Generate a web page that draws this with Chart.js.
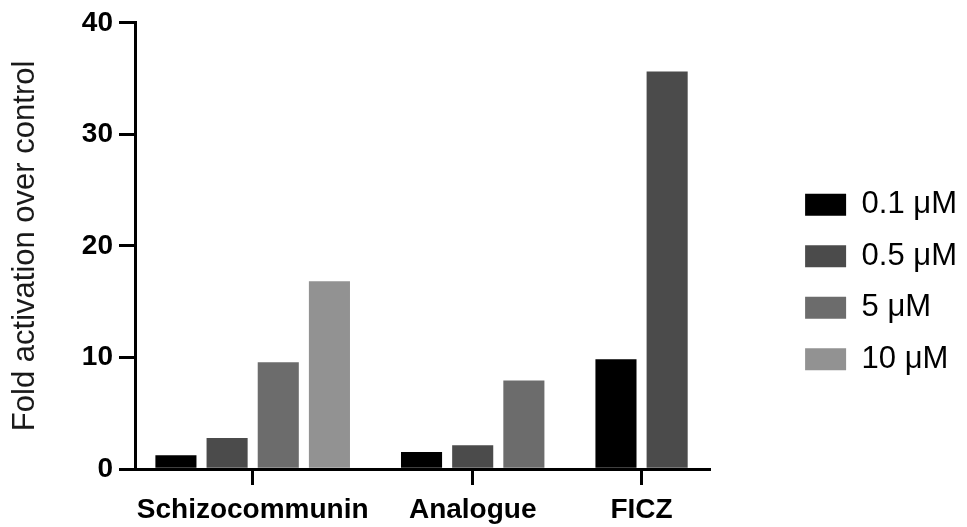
<!DOCTYPE html>
<html>
<head>
<meta charset="utf-8">
<script src="https://cdn.jsdelivr.net/npm/chart.js@4"></script>
<style>
  html, body { margin: 0; padding: 0; background: #fff; }
</style>
</head>
<body>
<canvas id="chart" width="967" height="527"></canvas>
<script>
const categories = ["Schizocommunin", "Analogue", "FICZ"];
const doseLabels = ["0.1 μM", "0.5 μM", "5 μM", "10 μM"];
const dose01 = [1.2, 1.5, 9.8];
const dose05 = [2.75, 2.1, 35.6];
const dose5 = [9.55, 7.9, null];
const dose10 = [16.8, null, null];
const yTicks = [0, 10, 20, 30, 40];
const barColors = ["#000000", "#4b4b4b", "#6c6c6c", "#929292"];

const series = [dose01, dose05, dose5, dose10];

// groups only take as much room as they have bars, with a fixed gap between them
const GROUP_GAP = 0.8;
const groupPos = [];
let cursor = 0;
categories.forEach((c, i) => {
  const n = series.filter(s => s[i] !== null).length;
  groupPos.push(cursor + n / 2);
  cursor += n + GROUP_GAP;
});
const xMin = -0.3;
const xMax = cursor - GROUP_GAP + 0.33;

// one bar slot = one unit on the x scale
function slotPx(ctx) {
  const x = ctx.chart.scales.x;
  const w = x ? x.getPixelForValue(1) - x.getPixelForValue(0) : NaN;
  return isFinite(w) && w > 0 ? w : 51;
}

const FONT = "'Liberation Sans', Arial, sans-serif";
Chart.defaults.font.family = FONT;
Chart.defaults.color = "#000";

const axisLine = { display: true, width: 3, color: "#000" };
const tickGrid = { display: true, offset: false, drawOnChartArea: false, drawTicks: true, tickLength: 16, lineWidth: 3, color: "#000" };

new Chart(document.getElementById("chart"), {
  type: "bar",
  data: {
    labels: groupPos,
    datasets: series.map((d, i) => ({
      label: doseLabels[i],
      data: d,
      backgroundColor: barColors[i],
      borderWidth: 0,
      skipNull: true,
      barThickness: slotPx,
      maxBarThickness: ctx => slotPx(ctx) * 0.79
    }))
  },
  options: {
    responsive: false,
    animation: false,
    layout: { padding: { top: 21, right: 0, bottom: 0, left: 0 } },
    plugins: {
      tooltip: { enabled: false },
      legend: {
        position: "right",
        align: "center",
        title: { display: true, text: "", padding: { top: 15, bottom: 0 }, font: { size: 1 } },
        labels: {
          boxWidth: 41,
          boxHeight: 22,
          padding: 20.5,
          color: "#000",
          font: { size: 31 }
        }
      }
    },
    scales: {
      x: {
        type: "linear",
        offset: false,
        min: xMin,
        max: xMax,
        z: 1,
        afterBuildTicks: s => { s.ticks = groupPos.map(v => ({ value: v })); },
        afterFit: s => { s.height = 58; },
        ticks: {
          autoSkip: false,
          maxRotation: 0,
          padding: 8,
          color: "#000",
          font: { size: 28, weight: "bold" },
          callback: (v, i) => categories[i]
        },
        grid: tickGrid,
        border: axisLine
      },
      y: {
        min: 0,
        max: 40,
        afterBuildTicks: s => { s.ticks = yTicks.map(v => ({ value: v })); },
        afterFit: s => { s.width = 135; },
        ticks: { padding: 6, color: "#000", font: { size: 28, weight: "bold" } },
        grid: tickGrid,
        border: axisLine,
        title: {
          display: true,
          text: "Fold activation over control",
          color: "#1a1a1a",
          font: { size: 31 },
          padding: { top: 7, bottom: 0 }
        }
      },
      // invisible spacer between the plot and the legend
      yPad: {
        position: "right",
        display: false,
        afterFit: s => { s.width = 75; }
      }
    }
  }
});
</script>
</body>
</html>
